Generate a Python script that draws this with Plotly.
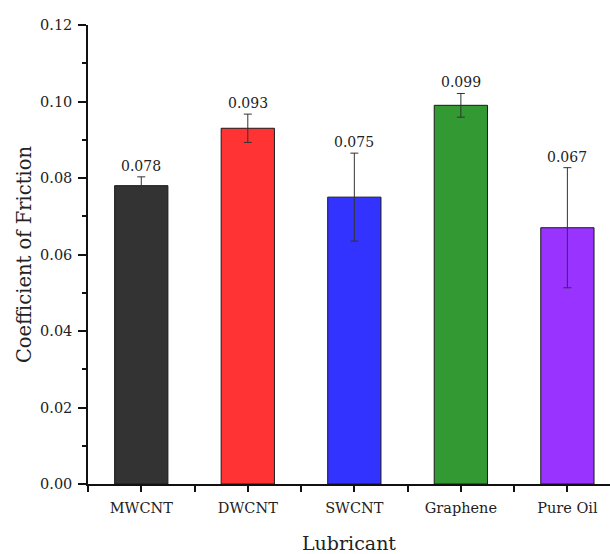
import plotly.graph_objects as go

# Friction data per lubricant
lubricants = ["MWCNT", "DWCNT", "SWCNT", "Graphene", "Pure Oil"]
cof_mean = [0.078, 0.093, 0.075, 0.099, 0.067]
cof_err = [0.0023, 0.0037, 0.0115, 0.0031, 0.0157]
bar_colors = ["#333333", "#ff3333", "#3333ff", "#339933", "#9933ff"]

positions = list(range(len(lubricants)))
serif = "DejaVu Serif, Liberation Serif, serif"

fig = go.Figure()
fig.add_trace(go.Bar(
    x=positions,
    y=cof_mean,
    width=0.5,
    marker=dict(color=bar_colors, line=dict(color="#1a1a1a", width=1)),
    error_y=dict(type="data", array=cof_err, visible=True,
                 color="#333333", thickness=1, width=4),
    showlegend=False,
))

# value labels sit just above each error bar cap
for xp, m, e in zip(positions, cof_mean, cof_err):
    fig.add_annotation(x=xp, y=m + e, text=f"{m:.3f}", showarrow=False,
                       yanchor="bottom", yshift=1,
                       font=dict(family=serif, size=14, color="#222222"))

fig.update_layout(
    width=610, height=554,
    margin=dict(l=88, r=0, t=25, b=70),
    paper_bgcolor="white", plot_bgcolor="white",
    font=dict(family=serif, color="#222222"),
    bargap=0.5,
)
fig.update_xaxes(
    range=[-0.5, 4.4],
    tickmode="array", tickvals=positions, ticktext=lubricants,
    tickfont=dict(size=14.5, family=serif), ticklabelstandoff=4,
    showline=True, linecolor="#111111", linewidth=1.5,
    ticks="outside", ticklen=6, tickwidth=1.5, tickcolor="#111111",
    minor=dict(ticks="outside", tick0=0.5, dtick=1, ticklen=6,
               tickwidth=1.5, tickcolor="#111111"),
    showgrid=False, zeroline=False,
    title=dict(text="Lubricant", font=dict(size=19, family=serif), standoff=24),
)
fig.update_yaxes(
    range=[0, 0.12], dtick=0.02, tickformat=".2f",
    tickfont=dict(size=14.5, family=serif), ticklabelstandoff=3,
    showline=True, linecolor="#111111", linewidth=1.5,
    ticks="outside", ticklen=8, tickwidth=1.5, tickcolor="#111111",
    minor=dict(ticks="outside", dtick=0.01, ticklen=4,
               tickwidth=1.5, tickcolor="#111111"),
    showgrid=False, zeroline=False,
    title=dict(text="Coefficient of Friction", font=dict(size=19.5, family=serif),
               standoff=3),
)

fig.write_html("out.html")
